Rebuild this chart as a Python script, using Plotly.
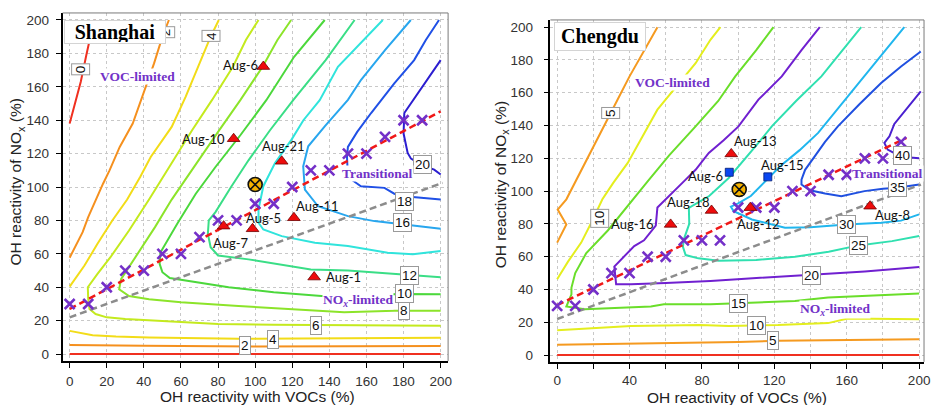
import plotly.graph_objects as go

# ---------------- Shanghai: O3 production isopleths ----------------
# each polyline is a list of (VOC %, NOx %) points; None separates branches
SH_LEVELS = [0, 2, 4, 6, 8, 10, 12, 14, 16, 18, 20]
SH_COLORS = ["#f03020", "#f5901e", "#f2dc18", "#c4ea1e", "#8ce42a", "#4cd83c",
             "#3ade86", "#30e4dc", "#28a6ee", "#2050e6", "#2c1ed0"]
SH_C00 = [(0, 138), (3, 150), (6, 163), (9, 179), (11, 189), (14, 200), None, (0, 0), (200, 0)]
SH_C02 = [(0, 57.7), (4, 66), (7, 73), (10, 82), (14, 92.5), (18, 102), (21.5, 110), (27, 124),
          (34, 138), (39, 154), (42, 164), (45.5, 174), (50, 190), (53.5, 200), None,
          (0, 5.5), (20, 5.2), (40, 5), (100, 4.6), (150, 4.6), (200, 4.8)]
SH_C04 = [(0, 40.4), (8, 53), (15, 66), (23, 80), (31, 92.5), (38, 106), (43.7, 118), (50, 128),
          (55, 136), (62.5, 154), (67, 166), (71.4, 178), (76, 190), (80.4, 200), None,
          (0, 13.9), (6, 12.5), (12.4, 11.3), (25, 10.5), (42.8, 10), (91, 9.2), (140, 9.5), (200, 9.8)]
SH_C06 = [(101.8, 200), (95, 188), (88, 172), (76.7, 152), (66, 134), (55, 114), (42.8, 92.5),
          (32, 74), (22, 58), (15, 48), (9.8, 40), (10, 33), (10.7, 27), (14, 24), (20, 22), (30, 21),
          (45, 20), (80, 18), (110, 17.5), (133, 17.3), (170, 17), (200, 17)]
SH_C08 = [(119.4, 200), (112, 188), (104, 172), (92, 152), (80, 133), (67, 112), (55, 92.5), (46, 76),
          (38, 62), (31, 50), (27.7, 44.8), (26.7, 38.8), (32, 34.8), (42.8, 32.8), (60, 31), (91, 28.8),
          (120, 27), (148, 25), (175, 26), (200, 25.9)]
SH_C10 = [(137.5, 200), (130, 190), (121, 178), (106, 152), (92, 131), (78.6, 112), (68, 96), (58, 78),
          (49, 61), (48.5, 54), (50, 49), (54, 45.5), (62.5, 44), (75, 41.5), (85.7, 40), (110, 37),
          (135.7, 34.8), (160, 35.5), (180, 36), (200, 35.8)]
SH_C12 = [(153.6, 200), (146, 188), (138, 176), (130, 165), (120.5, 152), (108, 134), (96.4, 116),
          (87, 100), (78.6, 85), (75, 80), (74.5, 72), (76, 64), (80, 59), (96.4, 56.7), (130, 50.7),
          (150, 50), (183, 47.2), (200, 46)]
SH_C14 = [(168.8, 200), (160, 190), (152, 181), (144.6, 172), (134.8, 152), (126, 140), (119.6, 128.4),
          (110.7, 114.4), (104.4, 100.5), (101.8, 86.6), (101.8, 78.6), (104.4, 74.6), (114.3, 70.6),
          (132.2, 66.7), (150, 64.7), (171.4, 60.7), (185, 59.7), (193, 61), (200, 61.7)]
SH_C16 = [(183.9, 200), (170, 182), (157.1, 164.2), (150, 152.2), (137.5, 136.3), (128.6, 124.4),
          (125.9, 112.4), (126.8, 98.5), (133.9, 88.5), (150, 82.6), (164.3, 79.6), (185.7, 76.6), (200, 75)]
SH_C18 = [(199.1, 200), (192, 188), (185.7, 176), (175, 162), (162.5, 144.3), (155, 133), (150, 124),
          (149.5, 118), (150, 106), (157, 100.5), (169.7, 99.5), (175, 96), (180.4, 94.5), (200, 92.5)]
SH_C20 = [(200, 176), (192, 163), (185.7, 152.2), (180.4, 144.3), (180, 132), (182.2, 120.4),
          (184, 117), (190, 113), (196.5, 110.4), (200, 107.5)]
SH_CONTOURS = [SH_C00, SH_C02, SH_C04, SH_C06, SH_C08, SH_C10, SH_C12, SH_C14, SH_C16, SH_C18, SH_C20]

# contour value labels
SH_LAB_TEXT = ["0", "4", "2", "2", "4", "6", "8", "10", "12", "16", "18", "20"]
SH_LAB_X = [5.7, 76.3, 51.5, 94.6, 109.8, 133, 180.4, 180.4, 183, 179.5, 180.4, 190]
SH_LAB_Y = [170.6, 190.6, 192.8, 5, 9, 17.3, 26.3, 36.2, 47.2, 78.6, 91.5, 113.4]
SH_LAB_ROT = [-90, -90, -90, 0, 0, 0, 0, 0, 0, 0, 0, 0]

# ridge points and reference lines
SH_RIDGE_VOC = [0, 10, 20, 30, 40, 50, 60, 70, 80, 90, 100, 110, 120, 130, 140, 150, 160, 170, 180, 190]
SH_RIDGE_NOX = [30, 30, 40, 50, 50, 60, 60, 70, 80, 80, 90, 90, 100, 110, 110, 120, 120, 130, 140, 140]
SH_FIT_X, SH_FIT_Y = [0, 200], [27, 145.3]
SH_DIAG_X, SH_DIAG_Y = [0, 201], [22, 102.5]

# observed days
SH_DAYS = ["Aug-6", "Aug-10", "Aug-21", "Aug-5", "Aug-7", "Aug-11", "Aug-1"]
SH_DAY_VOC = [104.4, 88.4, 114.3, 98.6, 83.0, 120.9, 131.8]
SH_DAY_NOX = [172.1, 128.9, 115.4, 75.0, 76.6, 81.6, 46.1]
SH_BASE_VOC, SH_BASE_NOX = [100], [101.5]

# ---------------- Chengdu ----------------
CD_LEVELS = [0, 5, 10, 15, 20, 25, 30, 35, 40]
CD_COLORS = ["#f03020", "#f59a20", "#e4ee1e", "#6ade2a", "#7020d0", "#30e0b0", "#20b6ee", "#2050e0", "#4a20d0"]
CD_C00 = [(0, 0), (200, 0)]
CD_C05 = [(55.4, 200), (48, 186), (40, 170), (33.5, 156), (26, 140), (17, 121), (10, 106), (5.1, 95),
          (0.3, 88.8), (5.1, 79.7), (0, 68.6), None,
          (0, 6.3), (40, 6.8), (76.5, 7.3), (100, 8), (122, 8.7), (160, 9.2), (200, 9.7)]
CD_C10 = [(90.2, 200), (84.7, 192.3), (76.5, 178), (66, 164), (55.4, 149.7), (47, 133), (39, 117.2),
          (31, 105), (25, 95), (19, 81), (13.3, 68.6), (6, 57), (0, 46.2), None,
          (0, 15.2), (20, 16.5), (40.8, 17.8), (79, 18.3), (94.8, 17.8), (122, 18.3), (149.7, 19.5),
          (160.6, 22.3), (180, 22), (200, 21.9)]
CD_C15 = [(119.5, 200), (110, 186), (98.4, 170), (89, 155), (76.5, 139.5), (62, 122), (50, 106), (38, 90),
          (28, 76), (16, 62), (10, 50), (7.9, 41), (7.9, 37), (5.1, 29.6), (15.2, 28), (51.8, 29.6),
          (59, 31), (84.7, 31), (100, 31.6), (131.4, 33), (149.7, 35.1), (170, 36), (200, 37.5)]
CD_C20 = [(145.1, 200), (135, 186), (124.1, 170), (111.2, 155.8), (100.2, 139.5), (92, 131),
          (83.8, 123.3), (76.5, 113), (71, 107), (62, 97), (55.4, 90), (54.5, 79), (48, 70),
          (42.6, 66.5), (36, 59), (31.6, 54), (32.6, 43.2), (40.8, 43.2), (60, 44), (84.7, 45.2),
          (103.9, 46.6), (136.9, 48.7), (170, 51), (200, 53.7)]
CD_C25 = [(168, 200), (157, 185), (146, 170), (132, 155), (118.6, 139.5), (111.2, 129.4), (102, 117),
          (94.8, 108), (84, 97), (73, 90), (72.8, 88.8), (73, 80), (70, 70.6), (69.5, 66), (71, 61),
          (78, 59), (89.3, 57.5), (110, 58), (131.4, 60), (150, 63), (166.5, 66.9), (185, 69.5), (200, 72.6)]
CD_C30 = [(191.8, 200), (180, 184), (168, 168), (156, 152), (144.2, 135.5), (134, 125), (124, 116),
          (115, 106), (107, 97), (100, 92.5), (96, 90.5), (97.5, 87.8), (107.6, 82.7), (125.9, 77.7),
          (140, 78), (159.8, 79.7), (179, 80.7), (190, 82), (200, 85.8)]
CD_C35 = [(200.9, 185.2), (190, 176), (179, 165.9), (167, 153), (155.1, 139.5), (148, 130),
          (142.4, 121.3), (137, 113), (135, 107), (135, 104), (139.6, 100.5), (148, 98.5), (157, 96.9),
          (169.8, 100), (180, 101.5), (188, 102), (200, 104)]
CD_C40 = [(200.9, 160.8), (193, 150), (186.3, 141), (183.6, 133.4), (180.8, 129.4), (182.6, 125.3),
          (186.3, 123.3), (190, 121), (200, 120)]
CD_CONTOURS = [CD_C00, CD_C05, CD_C10, CD_C15, CD_C20, CD_C25, CD_C30, CD_C35, CD_C40]

CD_LAB_TEXT = ["5", "10", "5", "10", "15", "20", "25", "30", "35", "40"]
CD_LAB_X = [29.8, 23.7, 119.5, 110.3, 100.2, 140.5, 166.5, 159.8, 188.1, 190.8]
CD_LAB_Y = [147.7, 83.1, 8.7, 18.3, 31.6, 48.7, 66.9, 79.7, 102, 121.5]
CD_LAB_ROT = [-90, -90, 0, 0, 0, 0, 0, 0, 0, 0]

CD_RIDGE_VOC = [0, 10, 20, 30, 40, 50, 60, 70, 80, 90, 100, 110, 120, 130, 140, 150, 160, 170, 180, 190]
CD_RIDGE_NOX = [30, 30, 40, 50, 50, 60, 60, 70, 70, 70, 90, 90, 90, 100, 100, 110, 110, 120, 120, 130]
CD_FIT_X, CD_FIT_Y = [0, 193], [30.5, 132.5]
CD_DIAG_X, CD_DIAG_Y = [0, 201], [22, 104]

CD_TRI_DAYS = ["Aug-13", "Aug-18", "Aug-16", "Aug-12", "Aug-8"]
CD_TRI_VOC = [96.2, 85.3, 62.7, 106.7, 172.9]
CD_TRI_NOX = [122.7, 88.2, 79.7, 89.9, 90.8]
CD_SQ_DAYS = ["Aug-6", "Aug-15"]
CD_SQ_VOC = [95.1, 116.4]
CD_SQ_NOX = [111.5, 108.7]
CD_BASE_VOC, CD_BASE_NOX = [100.6], [101]

# axis ticks
SH_TICKS = [0, 20, 40, 60, 80, 100, 120, 140, 160, 180, 200]
CD_XTICKS = [0, 40, 80, 120, 160, 200]

# ---------------- styling ----------------
W, H = 933, 405
PURPLE = "#7232c8"
SANS = "Liberation Sans"
SERIF = "Liberation Serif"
DAY_FONT = dict(family="Lato", size=13, color="#111")

# pixel offsets of the day labels relative to their markers
SH_DAY_SHIFT = [(-23, 2), (-30, 0), (2, 15), (11, 11), (7, -17), (24, 12), (29, 0)]
CD_TRI_SHIFT = [(24, 13), (-23, 8), (-38, 0), (8, -16), (22, -9)]
CD_SQ_SHIFT = [(-24, -4), (15, 12)]

fig = go.Figure()


def add_contours(polys, colors, xa, ya):
    for pts, col in zip(polys, colors):
        xs = [p[0] if p is not None else None for p in pts]
        ys = [p[1] if p is not None else None for p in pts]
        fig.add_trace(go.Scatter(x=xs, y=ys, mode="lines", xaxis=xa, yaxis=ya,
                                 line=dict(color=col, width=2), connectgaps=False,
                                 hoverinfo="skip", showlegend=False))


def add_common(xa, ya, fit_x, fit_y, diag_x, diag_y, rvoc, rnox):
    fig.add_trace(go.Scatter(x=diag_x, y=diag_y, mode="lines", xaxis=xa, yaxis=ya,
                             line=dict(color="#8c8c8c", width=2.5, dash="7px,4px"),
                             hoverinfo="skip", showlegend=False))
    fig.add_trace(go.Scatter(x=fit_x, y=fit_y, mode="lines", xaxis=xa, yaxis=ya,
                             line=dict(color="#f01818", width=2.5, dash="7px,4px"),
                             hoverinfo="skip", showlegend=False))
    fig.add_trace(go.Scatter(x=rvoc, y=rnox, mode="markers", xaxis=xa, yaxis=ya,
                             marker=dict(symbol="x-thin", size=10,
                                         line=dict(color="#7430c8", width=2.6)),
                             hoverinfo="skip", showlegend=False))


add_contours(SH_CONTOURS, SH_COLORS, "x", "y")
add_common("x", "y", SH_FIT_X, SH_FIT_Y, SH_DIAG_X, SH_DIAG_Y, SH_RIDGE_VOC, SH_RIDGE_NOX)
add_contours(CD_CONTOURS, CD_COLORS, "x2", "y2")
add_common("x2", "y2", CD_FIT_X, CD_FIT_Y, CD_DIAG_X, CD_DIAG_Y, CD_RIDGE_VOC, CD_RIDGE_NOX)

tri = dict(symbol="triangle-up", size=11, color="#ee0c0c", line=dict(color="#700000", width=0.8))
sq = dict(symbol="square", size=8, color="#0a46f0", line=dict(color="#001a70", width=0.8))
base = dict(symbol="circle-x", size=14, color="#f5b200", line=dict(color="#111", width=1.6))

fig.add_trace(go.Scatter(x=SH_DAY_VOC, y=SH_DAY_NOX, mode="markers", marker=tri,
                         xaxis="x", yaxis="y", hoverinfo="skip", showlegend=False))
fig.add_trace(go.Scatter(x=SH_BASE_VOC, y=SH_BASE_NOX, mode="markers", marker=base,
                         xaxis="x", yaxis="y", hoverinfo="skip", showlegend=False))
fig.add_trace(go.Scatter(x=CD_TRI_VOC, y=CD_TRI_NOX, mode="markers", marker=tri,
                         xaxis="x2", yaxis="y2", hoverinfo="skip", showlegend=False))
fig.add_trace(go.Scatter(x=CD_SQ_VOC, y=CD_SQ_NOX, mode="markers", marker=sq,
                         xaxis="x2", yaxis="y2", hoverinfo="skip", showlegend=False))
fig.add_trace(go.Scatter(x=CD_BASE_VOC, y=CD_BASE_NOX, mode="markers", marker=base,
                         xaxis="x2", yaxis="y2", hoverinfo="skip", showlegend=False))

ann = []


def contour_labels(texts, xs, ys, rots, xr, yr):
    for t, x, y, r in zip(texts, xs, ys, rots):
        ann.append(dict(text=t, x=x, y=y, xref=xr, yref=yr, showarrow=False, textangle=r,
                        xanchor="center", yanchor="middle",
                        font=dict(family=SANS, size=13.5, color="#111"), bgcolor="white",
                        bordercolor="#9a9a9a", borderwidth=1, borderpad=1))


def day_labels(texts, xs, ys, shifts, xr, yr):
    for t, x, y, (dx, dy) in zip(texts, xs, ys, shifts):
        ann.append(dict(text=t, x=x, y=y, xref=xr, yref=yr, showarrow=False,
                        xanchor="center", yanchor="middle",
                        xshift=dx, yshift=dy, font=DAY_FONT))


def regime(text, x, y, xr, yr):
    ann.append(dict(text="<b>" + text + "</b>", x=x, y=y, xref=xr, yref=yr, showarrow=False,
                    xanchor="center", yanchor="middle",
                    font=dict(family=SERIF, size=13.5, color=PURPLE), bgcolor="white", borderpad=0))


def paper_text(text, px, py, font, angle=0, **box):
    ann.append(dict(text=text, x=px / W, y=1 - py / H, xref="paper", yref="paper",
                    xanchor="center", yanchor="middle", showarrow=False, textangle=angle,
                    font=font, **box))


contour_labels(SH_LAB_TEXT, SH_LAB_X, SH_LAB_Y, SH_LAB_ROT, "x", "y")
contour_labels(CD_LAB_TEXT, CD_LAB_X, CD_LAB_Y, CD_LAB_ROT, "x2", "y2")
day_labels(SH_DAYS, SH_DAY_VOC, SH_DAY_NOX, SH_DAY_SHIFT, "x", "y")
day_labels(CD_TRI_DAYS, CD_TRI_VOC, CD_TRI_NOX, CD_TRI_SHIFT, "x2", "y2")
day_labels(CD_SQ_DAYS, CD_SQ_VOC, CD_SQ_NOX, CD_SQ_SHIFT, "x2", "y2")

regime("VOC-limited", 36.6, 166.1, "x", "y")
regime("Transitional", 166.1, 108.1, "x", "y")
regime("NO<sub><i>x</i></sub>-limited", 155.4, 31.8, "x", "y")
regime("VOC-limited", 64.0, 166.3, "x2", "y2")
regime("Transitional", 182.6, 111.0, "x2", "y2")
regime("NO<sub><i>x</i></sub>-limited", 153.3, 28.0, "x2", "y2")

# city name boxes
CITY_FONT = dict(family=SERIF, size=20, color="black")
paper_text("<b>Shanghai</b>", 116, 32, CITY_FONT, bgcolor="white", bordercolor="#d4d4d4",
           borderwidth=1, width=98, height=20)
paper_text("<b>Chengdu</b>", 603.5, 37, CITY_FONT, bgcolor="white", bordercolor="#d4d4d4",
           borderwidth=1, width=88, height=25)

# axis titles
TFONT = dict(family=SANS, size=15.5, color="#222")
YTITLE = "OH reactivity of NO<sub>x</sub> (%)"
paper_text("OH reactivity with VOCs (%)", 259, 397.5, TFONT)
paper_text("OH reactivity of VOCs (%)", 742, 398.5, TFONT)
paper_text(YTITLE, 17, 182, TFONT, angle=-90)
paper_text(YTITLE, 505, 185, TFONT, angle=-90)

GRID = dict(showgrid=True, gridcolor="#c8c8c8", griddash="dot", gridwidth=1)
axis_common = dict(showline=True, linecolor="black", linewidth=1.6, mirror=False,
                   ticks="outside", ticklen=5, tickwidth=1.3, tickcolor="black",
                   zeroline=False, tickfont=dict(family=SANS, size=13.5, color="#333"),
                   tickvals=SH_TICKS, **GRID)

fig.update_layout(
    width=W, height=H, margin=dict(l=0, r=0, t=0, b=0),
    paper_bgcolor="white", plot_bgcolor="white", showlegend=False,
    xaxis=dict(axis_common, domain=[63 / W, 451 / W], range=[-3.8, 204], anchor="y",
               ticklabelstandoff=2),
    yaxis=dict(axis_common, domain=[1 - 362 / H, 1 - 13 / H], range=[-4.2, 204.2], anchor="x",
               ticklabelstandoff=4),
    xaxis2=dict(axis_common, domain=[554 / W, 930 / W], range=[-3.7, 202.7], anchor="y2",
                tickvals=CD_XTICKS, ticklabelstandoff=0,
                minor=dict(tick0=0, dtick=20, ticks="outside", ticklen=5, tickwidth=1.3,
                           tickcolor="black", **GRID)),
    yaxis2=dict(axis_common, domain=[1 - 362.7 / H, 1 - 20 / H], range=[-4.1, 204.4], anchor="x2",
                ticklabelstandoff=8),
    annotations=ann,
    shapes=[
        dict(type="line", xref="x domain", yref="y domain", x0=0, x1=1, y0=1, y1=1,
             line=dict(color="#7a7a7a", width=1)),
        dict(type="line", xref="x domain", yref="y domain", x0=1, x1=1, y0=0, y1=1,
             line=dict(color="#7a7a7a", width=1)),
        dict(type="line", xref="x2 domain", yref="y2 domain", x0=0, x1=1, y0=1, y1=1,
             line=dict(color="#7a7a7a", width=1)),
        dict(type="line", xref="x2 domain", yref="y2 domain", x0=1, x1=1, y0=0, y1=1,
             line=dict(color="#7a7a7a", width=1)),
    ],
)

fig.write_html("out.html")
